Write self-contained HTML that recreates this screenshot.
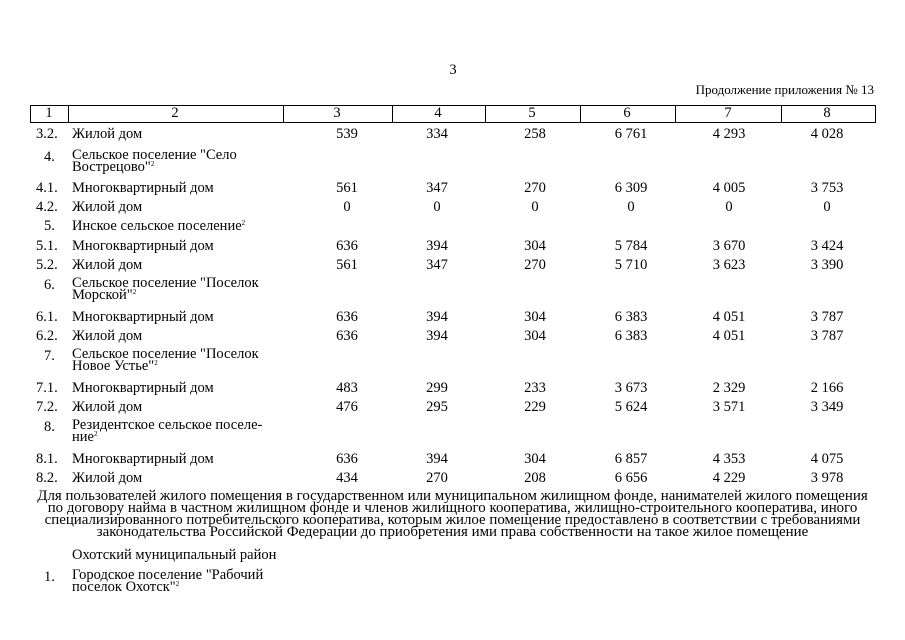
<!DOCTYPE html>
<html><head><meta charset="utf-8"><style>
body{margin:0;width:905px;height:640px;background:#fff;position:relative;font-family:"Liberation Serif",serif;font-size:14.5px;color:#000;overflow:hidden}
.t{position:absolute;line-height:16px;white-space:nowrap}
.c{position:absolute;line-height:16px;white-space:nowrap;transform:translateX(-50%)}
.v{position:absolute;top:105px;height:17px;border-left:1px solid #000}
sup{font-size:7px;vertical-align:5px;line-height:0}
</style></head><body>
<div class="c" style="left:453px;top:62px">3</div>
<div class="t" style="right:31px;top:82px;font-size:13px">Продолжение приложения № 13</div>
<div style="position:absolute;left:30px;top:105px;width:844px;height:16px;border:1px solid #000"></div>
<div class="v" style="left:68px"></div><div class="v" style="left:283px"></div><div class="v" style="left:392px"></div><div class="v" style="left:485px"></div><div class="v" style="left:580px"></div><div class="v" style="left:675px"></div><div class="v" style="left:781px"></div>
<div class="c" style="left:49px;top:105px">1</div><div class="c" style="left:175px;top:105px">2</div><div class="c" style="left:337px;top:105px">3</div><div class="c" style="left:438px;top:105px">4</div><div class="c" style="left:532px;top:105px">5</div><div class="c" style="left:627px;top:105px">6</div><div class="c" style="left:728px;top:105px">7</div><div class="c" style="left:827px;top:105px">8</div>
<div id="rows"></div>
<script>
var R=[
[126,"3.2.","Жилой дом",["539","334","258","6 761","4 293","4 028"]],
[149,"4.","Сельское поселение \"Село<br>Вострецово\"<sup>2</sup>",null],
[180,"4.1.","Многоквартирный дом",["561","347","270","6 309","4 005","3 753"]],
[199,"4.2.","Жилой дом",["0","0","0","0","0","0"]],
[218,"5.","Инское сельское поселение<sup>2</sup>",null],
[238,"5.1.","Многоквартирный дом",["636","394","304","5 784","3 670","3 424"]],
[257,"5.2.","Жилой дом",["561","347","270","5 710","3 623","3 390"]],
[277,"6.","Сельское поселение \"Поселок<br>Морской\"<sup>2</sup>",null],
[309,"6.1.","Многоквартирный дом",["636","394","304","6 383","4 051","3 787"]],
[328,"6.2.","Жилой дом",["636","394","304","6 383","4 051","3 787"]],
[348,"7.","Сельское поселение \"Поселок<br>Новое Устье\"<sup>2</sup>",null],
[380,"7.1.","Многоквартирный дом",["483","299","233","3 673","2 329","2 166"]],
[399,"7.2.","Жилой дом",["476","295","229","5 624","3 571","3 349"]],
[419,"8.","Резидентское сельское поселе-<br>ние<sup>2</sup>",null],
[451,"8.1.","Многоквартирный дом",["636","394","304","6 857","4 353","4 075"]],
[470,"8.2.","Жилой дом",["434","270","208","6 656","4 229","3 978"]],
[569,"1.","Городское поселение \"Рабочий<br>поселок Охотск\"<sup>2</sup>",null]];
var X=[347,437,535,631,729,827],h="";
R.forEach(function(r){var two=r[2].indexOf('<br>')>0;h+='<div class="t" style="left:'+(r[1].length>2?36:44)+'px;top:'+r[0]+'px">'+r[1]+'</div>';
h+='<div class="t" style="left:72px;top:'+r[0]+'px;line-height:'+(two?'12px':'16px')+'">'+r[2]+'</div>';
if(r[3])r[3].forEach(function(v,i){h+='<div class="c" style="left:'+X[i]+'px;top:'+r[0]+'px">'+v+'</div>'});});
document.getElementById('rows').innerHTML=h;
</script>
<div style="position:absolute;left:0px;top:490px;width:905px;text-align:center;line-height:12px;font-size:14.9px">Для пользователей жилого помещения в государственном или муниципальном жилищном фонде, нанимателей жилого помещения<br>по договору найма в частном жилищном фонде и членов жилищного кооператива, жилищно-строительного кооператива, иного<br>специализированного потребительского кооператива, которым жилое помещение предоставлено в соответствии с требованиями<br>законодательства Российской Федерации до приобретения ими права собственности на такое жилое помещение</div>
<div class="t" style="left:72px;top:547px">Охотский муниципальный район</div>
</body></html>
